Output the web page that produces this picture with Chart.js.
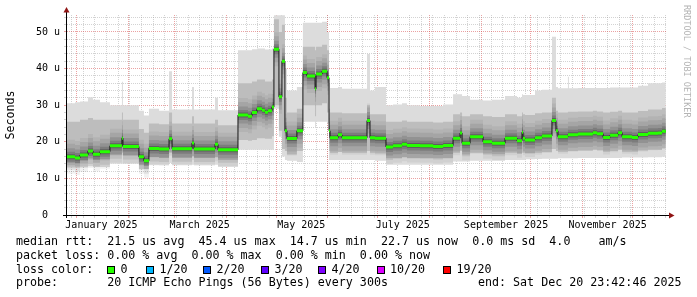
<!DOCTYPE html>
<html><head><meta charset="utf-8">
<script src="https://cdn.jsdelivr.net/npm/chart.js@4/dist/chart.umd.min.js"></script>
<style>
html,body{margin:0;padding:0;background:#fff;}
#wrap{position:relative;width:697px;height:297px;overflow:hidden;background:#fff;}
#c{position:absolute;left:0;top:0;}
.t{position:absolute;font-family:"DejaVu Sans Mono",monospace;font-size:11.66px;line-height:14px;white-space:pre;color:#000;}
.sq{position:absolute;width:6px;height:6px;border:1px solid #000;}
#wm{position:absolute;left:682px;top:5px;font-family:"DejaVu Sans Mono",monospace;font-size:8.5px;line-height:10px;color:#b4b4b4;writing-mode:vertical-rl;white-space:pre;}
</style></head><body>
<div id="wrap">
<canvas id="c" width="697" height="297"></canvas>
<div class="t" style="left:16px;top:234px">median rtt:  21.5 us avg  45.4 us max  14.7 us min  22.7 us now  0.0 ms sd  4.0    am/s</div>
<div class="t" style="left:16px;top:248px">packet loss: 0.00 % avg  0.00 % max  0.00 % min  0.00 % now</div>
<div class="t" style="left:16px;top:261.7px">loss color:</div>
<div class="t" style="left:16px;top:275px">probe:       20 ICMP Echo Pings (56 Bytes) every 300s</div>
<div class="t" style="left:478px;top:275px">end: Sat Dec 20 23:42:46 2025</div>
<div id="wm">RRDTOOL / TOBI OETIKER</div>
</div>
<script>
// ---- data (x = days since 1 Jan 2025, start of each step) ----
const days = [-5.7,-0.9,2.1,6.9,9.9,14.1,20.1,27.3,27.9,37.5,40.5,43.5,49.6,55.6,57.4,69.4,70.6,83.2,85.0,
  97.0,103.0,105.4,108.4,111.4,113.2,115.0,117.4,118.6,121.6,123.4,125.2,126.4,132.4,136.0,138.4,143.3,143.9,147.5,150.5,151.7,
  152.3,157.1,159.5,174.5,176.3,179.3,185.9,190.1,195.5,198.5,206.3,214.2,220.2,226.2,230.4,231.6,236.4,244.2,249.6,257.4,
  264.6,267.6,268.2,269.4,275.4,279.6,285.6,288.0,289.2,295.2,295.8,301.2,310.2,312.6,316.3,320.5,325.3,327.7,333.7,337.3,
  343.3,349.3,351.7,354.0];
const medianRtt = [15.9,15.6,16.4,17.5,16.6,17.3,18.9,21.0,18.7,15.9,14.8,18.2,18.0,20.8,18.1,19.7,18.0,19.3,17.8,
  27.3,27.0,28.0,29.0,28.6,28.1,28.5,29.5,45.3,32.3,42.0,23.0,20.9,23.0,38.9,38.0,34.5,38.5,39.3,37.5,23.0,
  21.1,21.9,21.1,25.8,21.1,21.0,18.6,18.9,19.3,19.0,18.9,18.7,19.0,21.0,22.4,19.6,21.4,20.0,19.6,21.0,
  20.3,22.6,21.0,20.5,21.1,21.6,25.8,23.0,21.4,21.9,21.9,22.1,22.5,22.2,21.2,21.8,22.5,21.4,21.2,22.0,
  22.3,22.4,22.9,22.9];
const smokeTop = [30.5,30.8,31.0,32.2,31.5,30.8,30.0,36.4,30.0,28.5,27.2,29.0,28.5,39.3,28.8,35.0,28.8,32.0,28.6,
  45.0,45.0,45.3,45.5,45.5,45.2,45.2,45.5,54.6,54.6,54.6,40.0,34.0,35.0,52.5,52.5,52.5,52.5,52.8,50.0,36.0,
  34.7,35.0,34.5,44.0,34.0,35.0,30.0,30.2,30.5,30.0,29.8,29.8,30.2,33.0,33.0,32.5,31.5,31.3,31.5,32.5,
  32.0,33.0,32.8,32.8,34.0,34.2,48.7,35.0,34.6,37.8,34.6,34.7,34.7,34.7,34.7,34.8,34.8,34.8,34.8,35.3,
  36.0,36.0,36.2,36.2];
const smokeHi = [25.5,25.5,26.0,26.5,26.0,26.0,26.0,28.0,26.0,23.5,22.5,25.0,24.8,28.0,25.0,27.0,25.0,26.0,24.5,
  36.0,36.0,36.5,37.0,37.0,36.5,36.5,37.0,53.5,50.0,52.0,32.0,28.0,29.0,46.0,46.0,45.0,46.0,46.5,45.0,29.0,
  28.0,28.0,27.8,30.0,27.5,27.5,25.5,25.5,25.8,25.5,25.5,25.3,25.5,27.5,28.0,27.0,27.5,27.0,26.8,27.5,
  27.0,28.0,27.5,27.3,27.8,28.0,32.0,28.5,28.0,28.2,28.2,28.3,28.5,28.3,28.0,28.2,28.5,28.0,28.0,28.4,
  28.8,28.8,29.2,29.2];
const smokeLo = [14.3,14.1,14.8,15.5,15.0,15.3,16.3,17.0,16.2,13.8,13.5,15.8,15.6,17.0,15.6,16.0,15.6,15.8,15.0,
  20.5,20.3,20.5,21.0,21.0,20.8,20.8,21.5,30.0,23.0,18.0,17.5,16.5,17.5,30.0,30.0,27.0,30.0,30.5,28.0,17.5,
  17.0,17.2,17.0,17.5,17.0,16.8,15.5,15.6,15.8,15.6,15.6,15.5,15.6,17.0,17.5,16.5,17.0,16.8,16.6,17.0,
  16.8,17.0,17.0,16.8,17.0,17.2,18.0,17.5,17.3,17.5,17.5,17.6,17.8,17.7,17.3,17.5,17.8,17.3,17.3,17.6,
  17.8,17.8,18.2,18.2];
const smokeBot = [13.0,12.9,13.2,13.3,13.2,13.1,14.0,14.0,14.0,12.6,12.6,13.7,13.7,14.2,13.7,13.7,13.7,13.7,13.2,
  17.8,17.8,17.8,17.8,17.8,17.8,17.8,17.8,29.0,21.4,16.0,15.0,14.8,14.5,25.5,25.5,24.0,25.5,25.5,25.0,15.0,
  15.0,15.0,15.0,15.0,15.0,14.8,13.7,13.7,13.7,13.7,13.7,13.7,13.7,14.6,14.6,14.6,14.8,14.8,14.8,15.0,
  15.0,15.0,15.0,15.2,15.3,15.4,15.4,15.4,15.5,15.5,15.5,15.6,15.6,15.6,15.6,15.6,15.6,15.7,15.7,15.7,
  15.8,15.8,15.9,15.9];

// ---- axis / tick data ----
const monthStarts = [0,31,59,90,120,151,181,212,243,273,304,334];
const labelDays = [15,74,135,196,258,319];
const labelTexts = ['January 2025','March 2025','May 2025','July 2025','September 2025','November 2025'];
const firstWeekDay = -3;           // Sundays
const yMin = 0, yMax = 54.64, yMinorStep = 2, yMajorStep = 10;
const xMin = -5.7, xMax = 354.7;

const lossLabels = ['0','1/20','2/20','3/20','4/20','10/20','19/20'];
const lossColors = ['#26ff00','#00b8ff','#0059ff','#5e00ff','#7e00ff','#dd00ff','#ff0000'];
const lossSqX = [107,146,203,261,318,376.5,443];

(function(){
  const wrap = document.getElementById('wrap');
  lossLabels.forEach((l,i)=>{
    const s = document.createElement('div'); s.className='sq';
    s.style.left = lossSqX[i]+'px'; s.style.top='266px'; s.style.background=lossColors[i];
    wrap.appendChild(s);
    const t = document.createElement('div'); t.className='t';
    t.style.left=(lossSqX[i]+13.5)+'px'; t.style.top='261.7px'; t.textContent=l;
    wrap.appendChild(t);
  });
})();

const pts = arr => days.map((d,i)=>({x:d,y:arr[i]}));
// horizontal-only pieces of the median (steps broken apart)
const medSegs = [];
for (let i=0;i<days.length-1;i++){
  medSegs.push({x:days[i],y:medianRtt[i]},{x:days[i+1],y:medianRtt[i]},{x:days[i+1],y:null});
}

function xTicks(){
  const t=[];
  for(let d=firstWeekDay; d<=xMax; d+=7) t.push({value:d,kind:'w'});
  monthStarts.forEach(d=>t.push({value:d,kind:'m'}));
  labelDays.forEach((d,i)=>t.push({value:d,kind:'l',lbl:labelTexts[i]}));
  t.sort((a,b)=>a.value-b.value || (a.kind==='l')-(b.kind==='l'));
  return t;
}
function yTicks(){
  const t=[];
  for(let v=yMin; v<=yMax; v+=yMinorStep) t.push({value:v,kind:(v%yMajorStep===0)?'m':'w'});
  return t;
}
const gridCol = k => k==='m' ? 'rgba(215,70,70,0.5)' : (k==='w' ? 'rgba(150,150,150,0.42)' : 'rgba(0,0,0,0)');

const base = {type:'line', pointRadius:0, pointHoverRadius:0, stepped:true, clip:0, spanGaps:false};
const seg = {type:'line', pointRadius:0, pointHoverRadius:0, stepped:false, clip:0, spanGaps:false, borderCapStyle:'butt', data:medSegs};

const axesPlugin = {
  id:'rrdAxes',
  afterDatasetsDraw(chart){
    const ctx=chart.ctx, a=chart.chartArea;
    ctx.save();
    ctx.strokeStyle='#000'; ctx.lineWidth=1;
    ctx.beginPath();
    ctx.moveTo(a.left-4, a.bottom+0.5); ctx.lineTo(a.right+4, a.bottom+0.5);
    ctx.moveTo(a.left-0.5, a.bottom+3); ctx.lineTo(a.left-0.5, a.top-3);
    ctx.stroke();
    ctx.fillStyle='#8f1414';
    ctx.beginPath();
    ctx.moveTo(a.left-0.5, a.top-8); ctx.lineTo(a.left-3.5, a.top-2.5); ctx.lineTo(a.left+2.5, a.top-2.5); ctx.closePath();
    ctx.fill();
    ctx.beginPath();
    ctx.moveTo(a.right+7.5, a.bottom+0.5); ctx.lineTo(a.right+2, a.bottom-2.5); ctx.lineTo(a.right+2, a.bottom+3.5); ctx.closePath();
    ctx.fill();
    ctx.restore();
  }
};

new Chart(document.getElementById('c'), {
  type:'line',
  data:{datasets:[
    {...seg, borderColor:'#26ff00', borderWidth:3, order:0},
    {...base, data:pts(medianRtt), borderColor:'#151515', borderWidth:1, order:1},
    {...seg, borderColor:'rgba(0,0,0,0.24)', borderWidth:5, order:2},
    {...seg, borderColor:'rgba(0,0,0,0.15)', borderWidth:10, order:3},
    {...seg, borderColor:'rgba(0,0,0,0.11)', borderWidth:17, order:4},
    {...seg, borderColor:'rgba(0,0,0,0.08)', borderWidth:26, order:5},
    {...seg, borderColor:'rgba(0,0,0,0.05)', borderWidth:34, order:6},
    {...base, data:pts(smokeHi), borderWidth:0, borderColor:'rgba(0,0,0,0)', backgroundColor:'#bdbdbd', fill:8, order:7},
    {...base, data:pts(smokeLo), borderWidth:0, borderColor:'rgba(0,0,0,0)', fill:false, order:8},
    {...base, data:pts(smokeTop), borderWidth:0, borderColor:'rgba(0,0,0,0)', backgroundColor:'#dcdcdc', fill:10, order:9},
    {...base, data:pts(smokeBot), borderWidth:0, borderColor:'rgba(0,0,0,0)', fill:false, order:10}
  ]},
  options:{
    responsive:false, animation:false, devicePixelRatio:1,
    events:[],
    layout:{padding:{left:0,right:30,top:15,bottom:0}},
    plugins:{legend:{display:false}, tooltip:{enabled:false}},
    scales:{
      x:{type:'linear', min:xMin, max:xMax,
        afterBuildTicks:s=>{s.ticks=xTicks();},
        afterFit:s=>{s.height=82;},
        ticks:{autoSkip:false, maxRotation:0, minRotation:0, padding:1, color:'#000',
          font:{family:'DejaVu Sans Mono', size:10},
          callback:(v,i,t)=> (t[i] && t[i].lbl) ? t[i].lbl : ''},
        grid:{color:c=>gridCol(c.tick&&c.tick.kind), tickColor:c=>gridCol(c.tick&&c.tick.kind), tickLength:3, lineWidth:1},
        border:{display:false, dash:[1,1]}
      },
      y:{type:'linear', min:yMin, max:yMax,
        afterBuildTicks:s=>{s.ticks=yTicks();},
        afterFit:s=>{s.width=67;},
        ticks:{autoSkip:false, padding:4, color:'#000', font:{family:'DejaVu Sans Mono', size:10},
          callback:v=> v%yMajorStep===0 ? (v===0 ? '0  ' : v+' u') : ''},
        title:{display:true, text:'Seconds', color:'#000', font:{family:'DejaVu Sans Mono', size:11.66}, padding:{top:4,bottom:0}},
        grid:{color:c=>gridCol(c.tick&&c.tick.kind), tickColor:c=>gridCol(c.tick&&c.tick.kind), tickLength:3, lineWidth:1},
        border:{display:false, dash:[1,1]}
      }
    }
  },
  plugins:[axesPlugin]
});
</script>
</body></html>
